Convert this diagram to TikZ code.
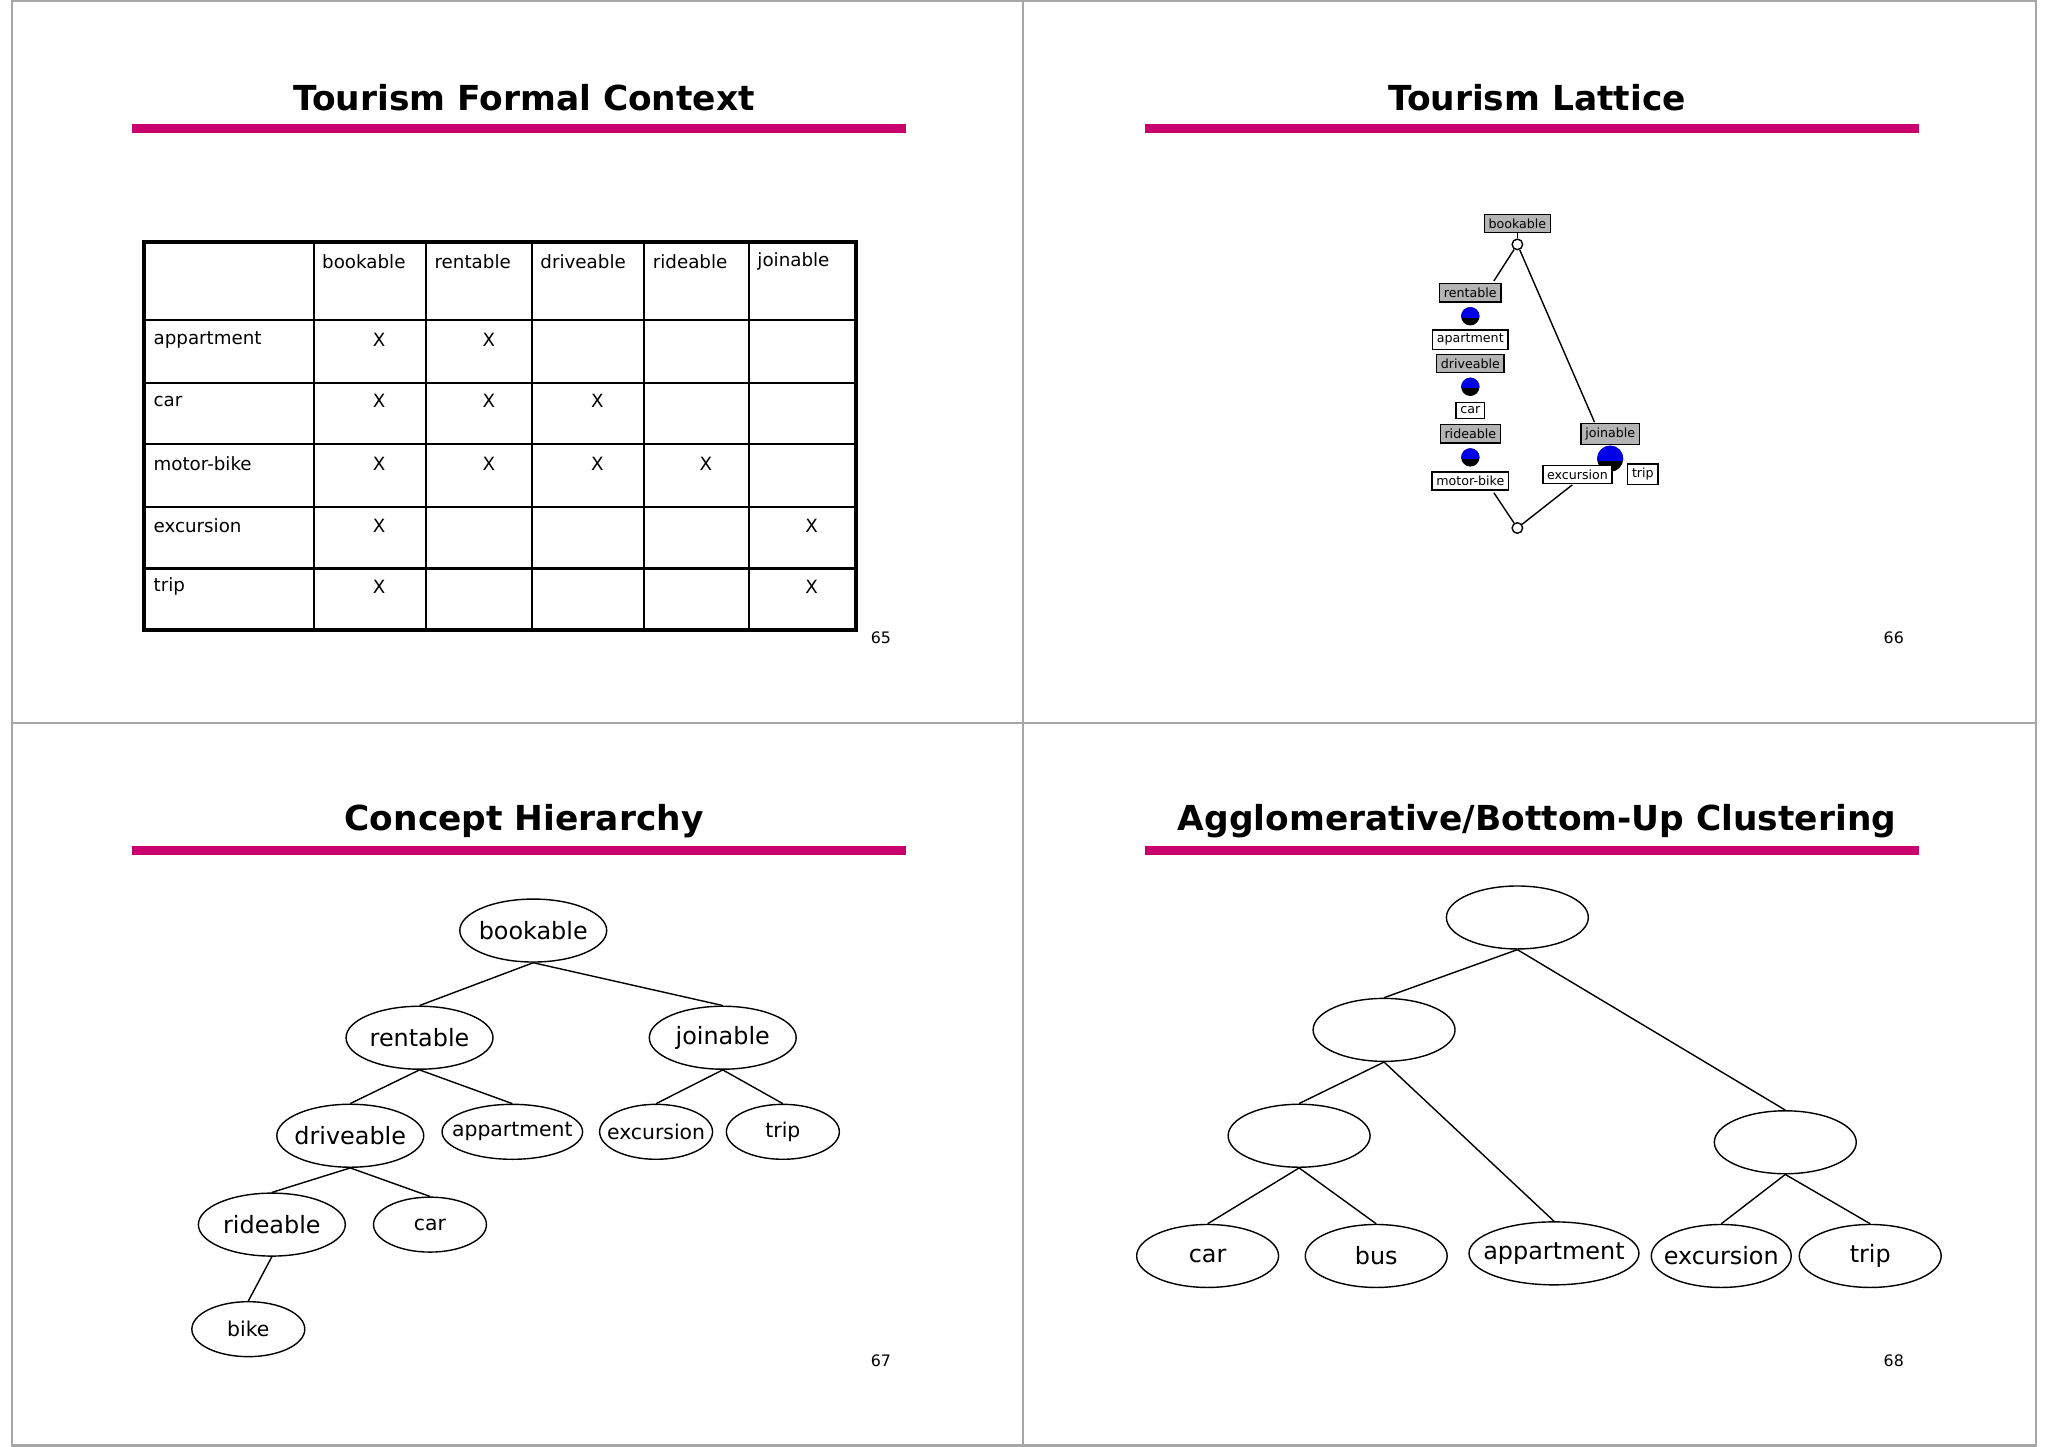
\documentclass[tikz,border=0pt]{standalone}
\usepackage{fontspec}
\setmainfont{DejaVu Sans}
\usetikzlibrary{shapes.geometric}
\definecolor{mag}{RGB}{200,0,110}
\definecolor{lgray}{RGB}{180,180,180}
\definecolor{lblue}{RGB}{0,0,230}
\begin{document}
\begin{tikzpicture}[x=0.01307cm,y=-0.01307cm,
  ttl/.style={font=\fontsize{9.8}{11}\selectfont\bfseries},
  bar/.style={mag,line width=0.09cm},
  tbl/.style={font=\fontsize{5.2}{7}\selectfont,inner sep=0pt},
  pnum/.style={font=\fontsize{4.5}{6}\selectfont},
  lbox/.style={draw,fill=lgray,font=\fontsize{3.6}{4.5}\selectfont,inner sep=1.2pt},
  wbox/.style={draw,fill=white,font=\fontsize{3.6}{4.5}\selectfont,inner sep=1.2pt},
  ell/.style={draw,ellipse,inner xsep=-3pt,inner ysep=0pt,minimum width=1.47cm,minimum height=0.63cm,font=\fontsize{6.8}{8}\selectfont},
  sell/.style={draw,ellipse,inner xsep=-3pt,inner ysep=0pt,minimum width=1.13cm,minimum height=0.55cm,font=\fontsize{5.8}{7}\selectfont},
  cell/.style={draw,ellipse,inner xsep=-3pt,inner ysep=0pt,minimum width=1.42cm,minimum height=0.63cm,font=\fontsize{6.8}{8}\selectfont},
  ln/.style={line width=0.4pt}]
\useasboundingbox (0,0) rectangle (1567,1107);
\fill[white] (0,0) rectangle (1567,1107);
\draw[gray!70,line width=0.6pt] (9,1) rectangle (1558,1106);
\draw[gray!70,line width=0.6pt] (783,1) -- (783,1106) (9,553) -- (1558,553);
% Panel 1
\node[ttl] (t1) at (401,75) {Tourism Formal Context};
\draw[bar] (101,98) -- (693,98);
\draw[line width=1.1pt] (110,185) rectangle (655,482);
\foreach \x in {240,326,407,493,573} \draw[line width=0.6pt] (\x,185) -- (\x,482);
\foreach \y in {245,293,340,388,435} \draw[line width=0.6pt] (110,\y) -- (655,\y);
\foreach \x/\t in {246/bookable,332/rentable,413/driveable,499/rideable,579/joinable}
  \node[tbl,anchor=west] (h\t) at (\x,200) {\t};
\foreach \y/\t in {260/appartment,307/car,355/motor-bike,402/excursion,449/trip}
  \node[tbl,anchor=west] (r\t) at (117,\y) {\t};
\foreach \x/\y in {290/260,374/260,290/307,374/307,457/307,290/355,374/355,457/355,540/355,290/402,621/402,290/449,621/449}
  \node[tbl] at (\x,\y) {X};
\node[pnum] (p65) at (674,488) {65};
% Panel 2
\node[ttl] (t2) at (1176,75) {Tourism Lattice};
\draw[bar] (876,98) -- (1468,98);
\node[draw,circle,inner sep=0pt,minimum size=3pt] (ctop) at (1161,187) {};
\node[draw,circle,inner sep=0pt,minimum size=3pt] (cbot) at (1161,404) {};
\node[lbox] (lbook) at (1161,171) {bookable};
\draw[ln] (lbook.south) -- (ctop);
\draw[ln] (ctop) -- (1143,215);
\draw[ln] (ctop) -- (1220,323);
\draw[ln] (1143,377) -- (cbot) -- (1203,371);
\foreach \y in {242,296,350}{
  \fill[black] (1125,\y) circle (7);
  \begin{scope}\clip (1125,\y) circle (7);
  \fill[lblue] (1115,\y-8) rectangle (1135,\y+1);\end{scope}
}
\fill[black] (1232,351) circle (10);
\begin{scope}\clip (1232,351) circle (10);
\fill[lblue] (1220,340) rectangle (1244,353);\end{scope}
\node[lbox] (lrent) at (1125,224) {rentable};
\node[wbox] (lapt) at (1125,260) {apartment};
\node[lbox] (ldrive) at (1125,278) {driveable};
\node[wbox] (lcar) at (1125,314) {car};
\node[lbox] (lride) at (1125,332) {rideable};
\node[wbox] (lmb) at (1125,368) {motor-bike};
\node[lbox] (ljoin) at (1232,332) {joinable};
\node[wbox] (lexc) at (1207,363) {excursion};
\node[wbox] (ltrip) at (1257,363) {trip};
\node[pnum] (p66) at (1449,488) {66};
% Panel 3
\node[ttl] (t3) at (401,628) {Concept Hierarchy};
\draw[bar] (101,651) -- (693,651);
\node[ell] (bk) at (408,712) {bookable};
\node[ell] (re) at (321,794) {rentable};
\node[ell] (jo) at (553,794) {joinable};
\node[ell] (dr) at (268,869) {driveable};
\node[sell,minimum width=1.34cm] (ap) at (392,866) {appartment};
\node[sell] (ex) at (502,866) {excursion};
\node[sell] (tr) at (599,866) {trip};
\node[ell] (ri) at (208,937) {rideable};
\node[sell] (ca) at (329,937) {car};
\node[sell] (bi) at (190,1017) {bike};
\foreach \a/\b in {bk/re,bk/jo,re/dr,re/ap,jo/ex,jo/tr,dr/ri,dr/ca,ri/bi}
  \draw[ln] (\a.south) -- (\b.north);
\node[pnum] (p67) at (674,1041) {67};
% Panel 4
\node[ttl] (t4) at (1176,628) {Agglomerative/Bottom-Up Clustering};
\draw[bar] (876,651) -- (1468,651);
\node[cell] (n0) at (1161,702) {};
\node[cell] (nA) at (1059,788) {};
\node[cell] (nB) at (994,869) {};
\node[cell] (nC) at (1366,874) {};
\node[cell] (k1) at (924,961) {car};
\node[cell] (k2) at (1053,961) {bus};
\node[cell,minimum width=1.68cm] (k3) at (1189,959) {appartment};
\node[cell,minimum width=1.40cm] (k4) at (1317,961) {excursion};
\node[cell] (k5) at (1431,961) {trip};
\foreach \a/\b in {n0/nA,n0/nC,nA/nB,nA/k3,nB/k1,nB/k2,nC/k4,nC/k5}
  \draw[ln] (\a.south) -- (\b.north);
\node[pnum] (p68) at (1449,1041) {68};
\end{tikzpicture}
\end{document}
